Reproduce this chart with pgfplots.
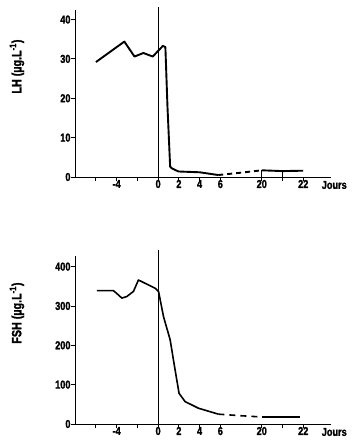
\documentclass[border=0pt]{standalone}
\usepackage{fontspec}
\setmainfont{Liberation Sans}[FakeStretch=0.8, BoldFeatures={FakeBold=1.5}]
\usepackage{pgfplots}
\pgfplotsset{compat=1.18}
\pgfplotsset{
  hormone/.style={
    scale only axis, width=256bp,
    xmin=-4.01, xmax=8.34,
    axis x line=bottom, axis y line=left,
    axis line style={-, line width=0.9bp},
    tick align=outside,
    major tick length=4bp,
    every tick/.style={line width=0.9bp, black},
    xtick={-3,-2,-1,0,1,2,3,5,6,7},
    xticklabels={,-4,,0,2,4,6,20,,22},
    /pgf/number format/assume math mode=true,
    ticklabel style={font=\bfseries\fontsize{11.5}{13}\selectfont},
    xticklabel style={inner sep=0.3bp, yshift=1.5bp},
    yticklabel style={inner sep=0.3bp},
    xlabel={Jours},
    xlabel style={at={(axis description cs:0.962,0)}, anchor=north west,
      font=\bfseries\fontsize{11.5}{13}\selectfont, inner sep=0.3bp, yshift=-3.5bp},
    ylabel style={at={(axis description cs:-0.227,0.66)}, anchor=center,
      font=\bfseries\fontsize{13.5}{15}\selectfont},
    clip=false,
  }
}
\begin{document}
\begin{tikzpicture}
\useasboundingbox (0,0) rectangle (352bp,446bp);
% LH
\begin{axis}[hormone, at={(75bp,269bp)}, anchor=south west, height=167.3bp,
  ymin=0, ymax=42.5, ytick={0,10,20,30,40},
  ylabel={LH (µg.L\textsuperscript{-1})}]
\addplot[black, line width=0.8bp] coordinates {(0,0) (0,43.3)};
\addplot[black, line width=1.9bp, line join=round] coordinates {
  (-3.0,29.2) (-1.63,34.4) (-1.14,30.6) (-0.71,31.5) (-0.26,30.6)
  (0.23,33.3) (0.35,33.0) (0.45,18.0) (0.58,2.6) (0.66,2.2)
  (0.98,1.4) (2.0,1.2) (2.9,0.5) };
\addplot[black, line width=1.9bp, dash pattern=on 5bp off 4bp] coordinates {
  (2.9,0.5) (4.0,1.1) (5.0,1.7) };
\addplot[black, line width=1.9bp] coordinates {
  (5.0,1.7) (6.0,1.5) (7.0,1.6) };
\addplot[black, line width=0.8bp] coordinates {(5,0) (5,1.7)};
\addplot[black, line width=0.8bp] coordinates {(6,0) (6,1.5)};
\end{axis}
% FSH
\begin{axis}[hormone, at={(75bp,22bp)}, anchor=south west, height=168bp,
  ymin=0, ymax=427, ytick={0,100,200,300,400},
  ylabel={FSH (µg.L\textsuperscript{-1})}]
\addplot[black, line width=0.8bp] coordinates {(0,0) (0,442)};
\addplot[black, line width=1.6bp, line join=round] coordinates {
  (-2.96,339) (-2.16,339) (-2.0,332) (-1.75,320) (-1.51,324) (-1.19,337)
  (-0.95,366) (-0.14,345) (0.02,337) (0.26,273) (0.58,214) (0.82,137)
  (1.01,78) (1.3,57) (1.95,40) (2.91,25) };
\addplot[black, line width=1.6bp, dash pattern=on 6bp off 5bp] coordinates {
  (2.91,25) (4.0,21) (4.95,18) };
\addplot[black, line width=1.9bp] coordinates {
  (5.0,17) (6.85,17) };
\end{axis}
\end{tikzpicture}
\end{document}
